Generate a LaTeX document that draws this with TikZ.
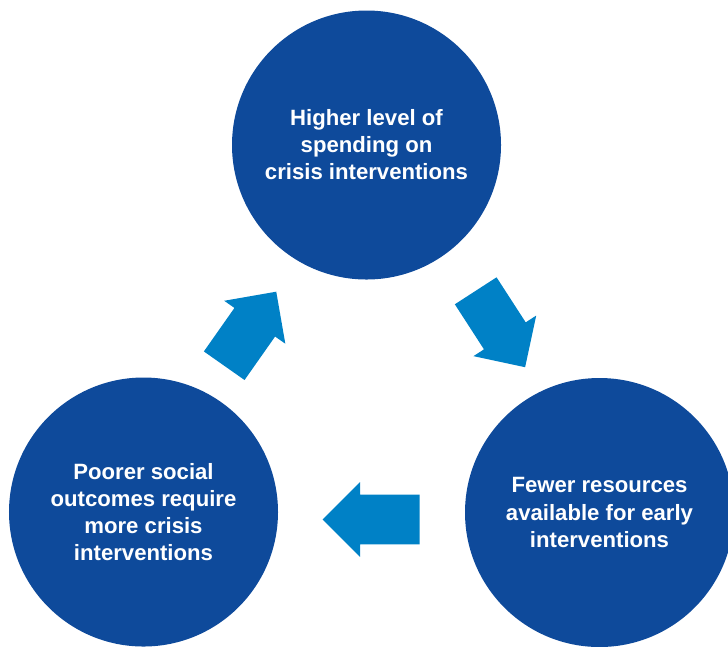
\documentclass[tikz,border=0pt]{standalone}
\usepackage{fontspec}
\setmainfont{Liberation Sans}
\usetikzlibrary{shapes.arrows}
\definecolor{circblue}{RGB}{14,74,155}
\definecolor{arrblue}{RGB}{0,129,198}
\tikzset{
  cyclecircle/.style={circle, fill=circblue, minimum size=5.38cm, inner sep=0pt,
    text=white, align=center, font=\bfseries\fontsize{12.6}{15.4}\selectfont},
  blockarrow/.style={single arrow, fill=arrblue, inner xsep=0pt, inner ysep=0.49cm,
    single arrow head extend=0.25cm, anchor=tail}
}
\begin{document}
\begin{tikzpicture}
\useasboundingbox (0,0) rectangle (14.56,-12.92);
%\draw[help lines] (0,0) grid (14.56,-12.92);
\node[cyclecircle] (spend) at (7.33,-2.90) {Higher level of\\spending on\\crisis interventions};%top circle
\node[cyclecircle] (fewer) at (11.99,-10.25) {Fewer resources\\available for early\\interventions};%right circle
\node[cyclecircle] (poorer) at (2.87,-10.24) {Poorer social\\outcomes require\\more crisis\\interventions};%left circle

\node[blockarrow, minimum height=1.81cm, rotate=54.9] (uparr) at (4.48,-7.32) {};%poorer to spend
\node[blockarrow, minimum height=1.82cm, rotate=-57.1] (downarr) at (9.51,-5.81) {};%spend to fewer
\node[blockarrow, minimum height=1.94cm, rotate=180] (leftarr) at (8.40,-10.39) {};%fewer to poorer
\end{tikzpicture}
\end{document}
